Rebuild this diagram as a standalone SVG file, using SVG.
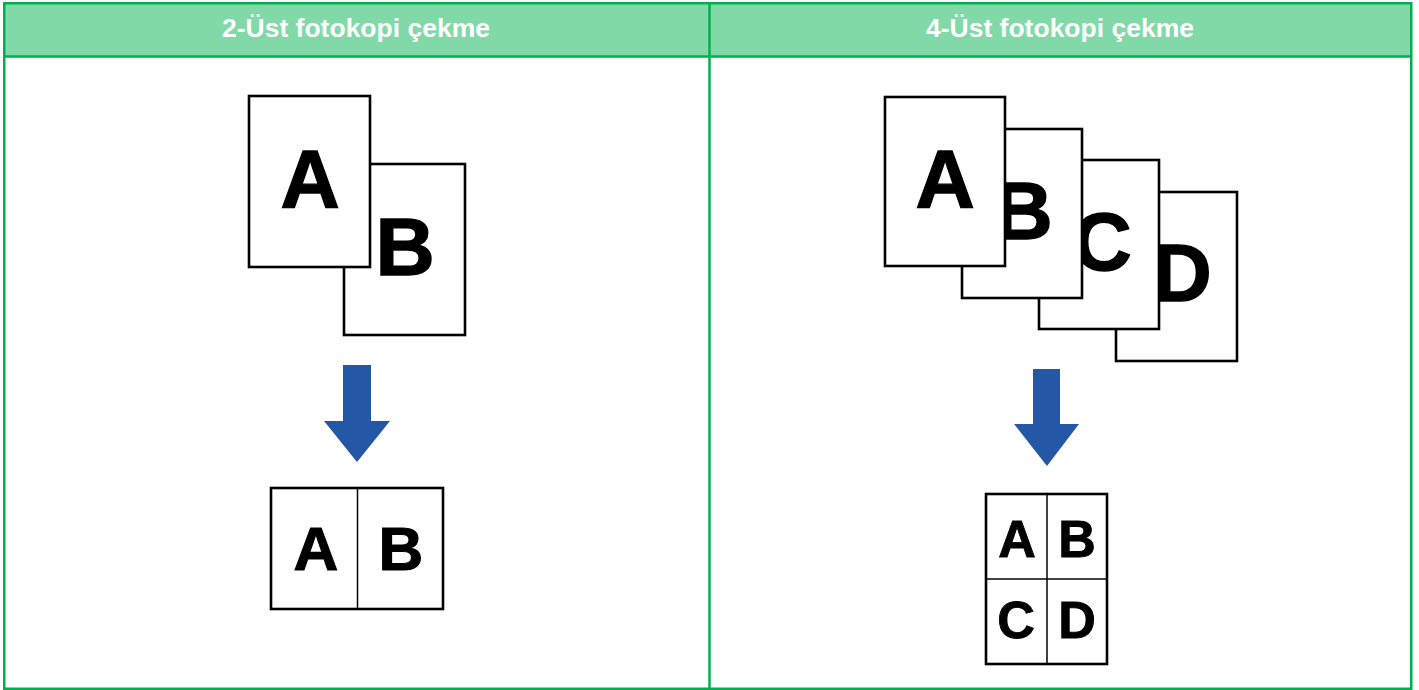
<svg xmlns="http://www.w3.org/2000/svg" width="1419" height="690" viewBox="0 0 1419 690">
<style>
.hdr{fill:#82D9A8;}
.frame{fill:none;stroke:#00B050;stroke-width:2.5;}
.title{font-family:"Liberation Sans",Arial,sans-serif;font-weight:bold;font-size:26.5px;fill:#ffffff;text-anchor:middle;}
.page{fill:#ffffff;stroke:#000000;stroke-width:2.6;}
.thin{stroke:#000000;stroke-width:1.5;fill:none;}
.big{font-family:"Liberation Sans",Arial,sans-serif;font-weight:bold;font-size:82px;fill:#000000;stroke:#000000;stroke-width:1.4;stroke-linejoin:miter;text-anchor:middle;}
.mid{font-family:"Liberation Sans",Arial,sans-serif;font-weight:bold;font-size:62px;fill:#000000;stroke:#000000;stroke-width:1.1;text-anchor:middle;}
.small{font-family:"Liberation Sans",Arial,sans-serif;font-weight:bold;font-size:52px;fill:#000000;stroke:#000000;stroke-width:0.9;text-anchor:middle;}
.arrow{fill:#2457A6;}
</style>
<rect x="0" y="0" width="1419" height="690" fill="#ffffff"/>
<g id="header">
<rect class="hdr" x="4" y="3" width="1407" height="53"/>
<text class="title" x="356" y="37">2-Üst fotokopi çekme</text>
<text class="title" x="1060" y="37">4-Üst fotokopi çekme</text>
</g>
<g id="frame">
<rect class="frame" x="4.25" y="3.25" width="1407" height="685.5"/>
<line class="frame" x1="4" y1="56.5" x2="1411" y2="56.5"/>
<line class="frame" x1="709.5" y1="3" x2="709.5" y2="689"/>
</g>
<g id="left-originals">
<rect class="page" x="344" y="164" width="121" height="171"/>
<text class="big" x="405" y="275">B</text>
<rect class="page" x="249" y="96" width="121" height="171"/>
<text class="big" x="310" y="207">A</text>
</g>
<g id="connectors">
<polygon class="arrow" points="343,365 371,365 371,421 390,421 357,462 324,421 343,421"/>
<polygon class="arrow" points="1033,369 1060,369 1060,424 1079,424 1047,466 1014,424 1033,424"/>
</g>
<g id="left-result">
<rect class="page" x="271" y="488" width="172" height="121"/>
<line class="thin" x1="357.5" y1="488" x2="357.5" y2="609"/>
<text class="mid" x="316" y="570">A</text>
<text class="mid" x="401" y="570">B</text>
</g>
<g id="right-originals">
<rect class="page" x="1116" y="192" width="121" height="169"/>
<text class="big" x="1182" y="301">D</text>
<rect class="page" x="1039" y="160" width="120" height="169"/>
<text class="big" x="1102" y="270">C</text>
<rect class="page" x="962" y="129" width="120" height="169"/>
<text class="big" x="1023" y="239">B</text>
<rect class="page" x="885" y="97" width="120" height="169"/>
<text class="big" x="945" y="207">A</text>
</g>
<g id="right-result">
<rect class="page" x="986" y="494" width="121" height="170"/>
<line class="thin" x1="1047" y1="494" x2="1047" y2="664"/>
<line class="thin" x1="986" y1="579" x2="1107" y2="579"/>
<text class="small" x="1017" y="557">A</text>
<text class="small" x="1077" y="557">B</text>
<text class="small" x="1016" y="638">C</text>
<text class="small" x="1077" y="638">D</text>
</g>
</svg>
